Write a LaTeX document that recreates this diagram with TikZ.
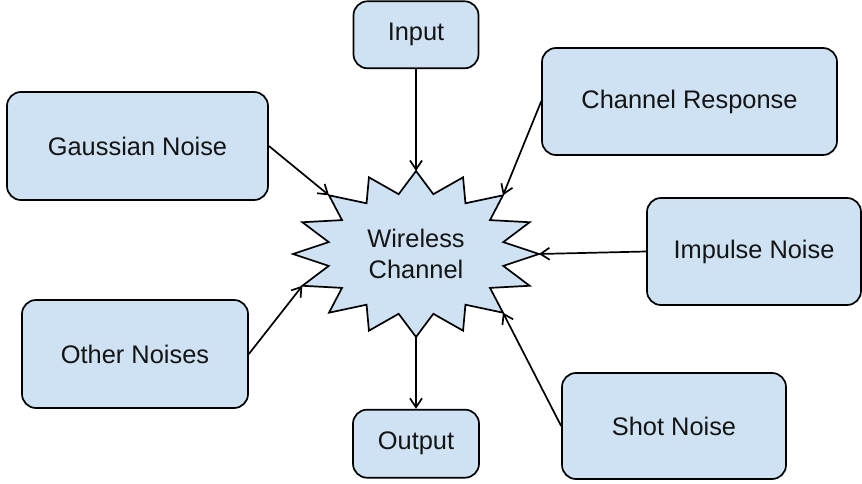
\documentclass[tikz,border=0pt]{standalone}
\usepackage{fontspec}
\setmainfont{Liberation Sans}
\usepackage{xcolor}
\usetikzlibrary{arrows.meta, positioning, shapes.geometric, calc}
\definecolor{wlblue}{HTML}{CFE2F3}
\definecolor{wltext}{HTML}{141414}

\begin{document}
\begin{tikzpicture}[x=1bp, y=-1bp, line width=1.7bp, >={Straight Barb[length=9bp,width=12bp]},
    box/.style={draw, rectangle, rounded corners=14bp, fill=wlblue, inner sep=0pt, text=wltext, font=\fontsize{25.5}{30}\selectfont},
    burst/.style={draw, fill=wlblue, line join=miter}]
    \useasboundingbox (0,0) rectangle (862,484);

    % star round the channel
    \coordinate (wcc) at (416,254);
    \draw[burst] ($(wcc)+(123,0)$)
      \foreach \k [evaluate=\k as \rx using {mod(\k,2)==0 ? 123 : 89},
                   evaluate=\k as \ry using {mod(\k,2)==0 ? 83 : 61}] in {1,...,31}
      { -- ($(wcc)+({\rx*cos(\k*11.25)},{\ry*sin(\k*11.25)})$) } -- cycle;
    \foreach \k in {0,...,15}
      \coordinate (tip\k) at ($(wcc)+({123*cos(\k*22.5)},{83*sin(\k*22.5)})$);
    \node[ellipse, minimum width=246bp, minimum height=166bp, inner sep=0pt, align=center, text=wltext,
          font=\fontsize{25.5}{31}\selectfont] (wc) at (wcc) {Wireless\\Channel};

    \node[box, minimum width=125bp, minimum height=67bp, above=101bp of wc] (input) {Input};
    \node[box, minimum width=126bp, minimum height=68bp, below=71bp of wc] (output) {Output};
    \node[box, minimum width=295bp, minimum height=107bp] (chresp) at (689.5,101.5) {Channel Response};
    \node[box, minimum width=261bp, minimum height=108bp] (gauss) at (137.5,146) {Gaussian Noise};
    \node[box, minimum width=214bp, minimum height=107bp] (impulse) at (754,251.5) {Impulse Noise};
    \node[box, minimum width=226bp, minimum height=108bp] (other) at (135,354) {Other Noises};
    \node[box, minimum width=224bp, minimum height=106bp] (shot) at (674,426) {Shot Noise};

    % sources into the channel
    \draw[->] (input) -- (tip12);
    \draw[->] (chresp.west) -- (tip14);
    \draw[->] (gauss.east) -- (tip10);
    \draw[->] (impulse.west) -- (tip0);
    \draw[->] (other.east) -- (tip7);
    \draw[->] (shot.west) -- (tip2);

    % channel out
    \draw[->] (tip4) -- (output);
\end{tikzpicture}
\end{document}
